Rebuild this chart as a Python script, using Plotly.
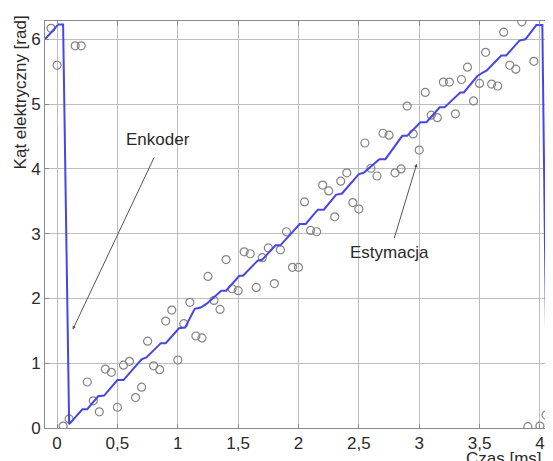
import plotly.graph_objects as go

# Estimation samples (open circles)
est_t = [-0.05, 0.00, 0.05, 0.10, 0.15, 0.20, 0.25, 0.30, 0.35, 0.40, 0.45, 0.50,
         0.55, 0.60, 0.65, 0.70, 0.75, 0.80, 0.85, 0.90, 0.95, 1.00, 1.05, 1.10,
         1.15, 1.20, 1.25, 1.30, 1.35, 1.40, 1.45, 1.50, 1.55, 1.60, 1.65, 1.70,
         1.75, 1.80, 1.85, 1.90, 1.95, 2.00, 2.05, 2.10, 2.15, 2.20, 2.25, 2.30,
         2.35, 2.40, 2.45, 2.50, 2.55, 2.60, 2.65, 2.70, 2.75, 2.80, 2.85, 2.90,
         2.95, 3.00, 3.05, 3.10, 3.15, 3.20, 3.25, 3.30, 3.35, 3.40, 3.45, 3.50,
         3.55, 3.60, 3.65, 3.70, 3.75, 3.80, 3.85, 3.90, 3.95, 4.00, 4.05]
est_val = [6.17, 5.60, 0.03, 0.14, 5.90, 5.90, 0.71, 0.42, 0.25, 0.91, 0.86, 0.32,
           0.97, 1.03, 0.47, 0.63, 1.34, 0.96, 0.90, 1.65, 1.82, 1.05, 1.61, 1.94,
           1.42, 1.39, 2.34, 1.97, 1.83, 2.60, 2.15, 2.12, 2.72, 2.69, 2.17, 2.63,
           2.78, 2.23, 2.75, 3.03, 2.48, 2.48, 3.49, 3.05, 3.03, 3.75, 3.66, 3.26,
           3.81, 3.94, 3.48, 3.38, 4.40, 4.01, 3.89, 4.55, 4.52, 3.94, 4.00, 4.97,
           4.54, 4.29, 5.18, 4.83, 4.79, 5.34, 5.34, 4.85, 5.38, 5.57, 5.05, 5.32,
           5.80, 5.31, 5.28, 6.11, 5.60, 5.54, 6.27, 0.02, 5.66, 0.03, 0.20]

# Encoder angle (blue staircase)
enc_t = [-0.10, 0.01, 0.05, 0.10, 0.21, 0.25, 0.34, 0.39, 0.50, 0.55, 0.70, 0.74,
         0.86, 0.90, 1.01, 1.06, 1.14, 1.19, 1.24, 1.36, 1.40, 1.51, 1.54, 1.66,
         1.70, 1.81, 1.85, 2.01, 2.06, 2.16, 2.21, 2.31, 2.36, 2.50, 2.54, 2.67,
         2.72, 2.86, 2.90, 3.01, 3.06, 3.17, 3.21, 3.34, 3.37, 3.48, 3.52, 3.56,
         3.68, 3.72, 3.83, 3.88, 3.97, 4.02, 4.06, 4.10]
enc_val = [6.00, 6.23, 6.23, 0.06, 0.29, 0.29, 0.49, 0.50, 0.74, 0.74, 1.06, 1.09,
           1.31, 1.31, 1.54, 1.55, 1.84, 1.86, 1.92, 2.12, 2.12, 2.35, 2.35, 2.58,
           2.60, 2.82, 2.82, 3.15, 3.15, 3.37, 3.37, 3.60, 3.62, 3.92, 3.94, 4.15,
           4.15, 4.51, 4.51, 4.72, 4.72, 4.95, 4.95, 5.18, 5.18, 5.43, 5.48, 5.52,
           5.75, 5.75, 5.98, 6.00, 6.22, 6.22, 0.05, 0.12]

x_ticks = [0, 0.5, 1, 1.5, 2, 2.5, 3, 3.5, 4]
x_ticktext = ["0", "0,5", "1", "1,5", "2", "2,5", "3", "3,5", "4"]
y_ticks = [0, 1, 2, 3, 4, 5, 6]
y_ticktext = ["0", "1", "2", "3", "4", "5", "6"]

FONT = "Liberation Sans, Arial, sans-serif"
TXT = "#2a2a2a"

fig = go.Figure()
fig.add_trace(go.Scatter(
    x=est_t, y=est_val, mode="markers",
    marker=dict(symbol="circle-open", size=8, color="#858585", line=dict(width=1.2)),
    showlegend=False, hoverinfo="skip"))
fig.add_trace(go.Scatter(
    x=enc_t, y=enc_val, mode="lines",
    line=dict(color="#4646e6", width=2),
    showlegend=False, hoverinfo="skip"))

# page body has an 8px margin: figure is 8px smaller and margins compensate
fig.update_layout(
    width=545, height=453,
    margin=dict(l=37, r=1, t=13, b=33),
    paper_bgcolor="white", plot_bgcolor="white",
    font=dict(family=FONT, size=17, color=TXT),
    showlegend=False,
    xaxis=dict(range=[-0.1, 4.1], tickvals=x_ticks, ticktext=x_ticktext,
               showgrid=True, gridcolor="#bdbdbd", gridwidth=1,
               showline=True, mirror="ticks", linecolor="#8a8a8a", linewidth=1,
               ticks="inside", ticklen=4, tickcolor="#8a8a8a",
               zeroline=False, tickfont=dict(size=17, color=TXT),
               automargin=False),
    yaxis=dict(range=[0, 6.2832], tickvals=y_ticks, ticktext=y_ticktext,
               showgrid=True, gridcolor="#bdbdbd", gridwidth=1,
               showline=True, mirror="ticks", linecolor="#8a8a8a", linewidth=1,
               ticks="inside", ticklen=4, tickcolor="#8a8a8a",
               zeroline=False, tickfont=dict(size=17, color=TXT),
               ticklabelstandoff=0, automargin=False),
)

# Axis titles
fig.add_annotation(text="Kąt elektryczny [rad]", textangle=-90,
                   xref="paper", yref="paper", x=-0.049, y=0.825,
                   xanchor="center", yanchor="middle", showarrow=False,
                   font=dict(size=17, color=TXT))
fig.add_annotation(text="Czas [ms]", xref="paper", yref="paper",
                   x=0.906, y=-0.076, xanchor="center", yanchor="middle",
                   showarrow=False, font=dict(size=17, color=TXT))

# Labels with arrows
fig.add_annotation(text="Enkoder", x=0.84, y=4.46, xref="x", yref="y",
                   showarrow=False, font=dict(size=17, color=TXT))
fig.add_annotation(x=0.13, y=1.52, ax=0.81, ay=4.2, xref="x", yref="y",
                   axref="x", ayref="y", text="", showarrow=True,
                   arrowhead=2, arrowsize=0.7, arrowwidth=1, arrowcolor="#555555")
fig.add_annotation(text="Estymacja", x=2.75, y=2.71, xref="x", yref="y",
                   showarrow=False, font=dict(size=17, color=TXT))
fig.add_annotation(x=2.98, y=4.08, ax=2.79, ay=2.91, xref="x", yref="y",
                   axref="x", ayref="y", text="", showarrow=True,
                   arrowhead=2, arrowsize=0.7, arrowwidth=1, arrowcolor="#555555")

fig.write_html("out.html")
